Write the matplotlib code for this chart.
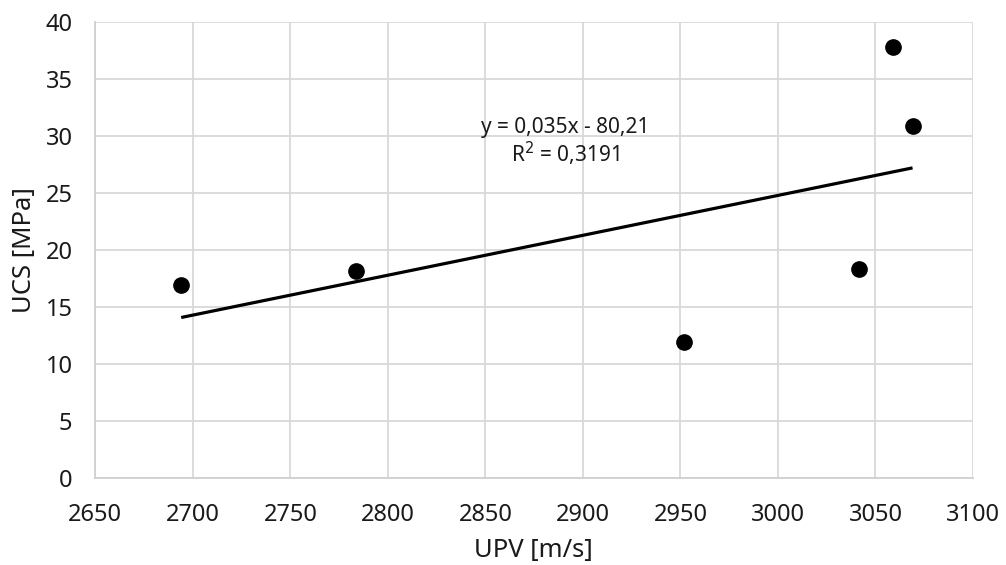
import matplotlib
matplotlib.use("Agg")
import matplotlib.pyplot as plt
import numpy as np

plt.rcParams['font.family'] = ['Noto Sans', 'DejaVu Sans']

upv = [2694, 2783.4, 2951.6, 3041.7, 3059, 3069]
ucs = [16.9, 18.2, 11.9, 18.3, 37.8, 30.9]
slope = 0.035
intercept = -80.21
eq_text = "y = 0,035x - 80,21\nR$^2$ = 0,3191"
xticks = [2650, 2700, 2750, 2800, 2850, 2900, 2950, 3000, 3050, 3100]
yticks = [0, 5, 10, 15, 20, 25, 30, 35, 40]

fig = plt.figure(figsize=(10.06, 5.65), dpi=100)
ax = fig.add_axes([0.0948, 0.154, 0.8724, 0.807])

ax.set_xlim(2650, 3100)
ax.set_ylim(0, 40)
ax.set_xticks(xticks)
ax.set_yticks(yticks)
ax.grid(True, color='#d9d9d9', linewidth=1.3)
ax.set_axisbelow(True)
for s in ax.spines.values():
    s.set_visible(False)
for side in ('left', 'bottom'):
    ax.spines[side].set_visible(True)
    ax.spines[side].set_color('#d0d0d0')
    ax.spines[side].set_linewidth(1.3)
ax.tick_params(length=0, labelsize=17, colors='#1a1a1a')
ax.tick_params(axis='x', pad=18)
ax.tick_params(axis='y', pad=16.5)

xs = np.array([min(upv), max(upv)])
ax.plot(xs, slope * xs + intercept, color='black', linewidth=2.3,
        solid_capstyle='butt', zorder=2)
ax.plot(upv, ucs, 'o', color='black', markersize=11, zorder=3)

ax.text(2891, 29.4, eq_text, ha='center', va='center', fontsize=15,
        color='#1a1a1a', linespacing=1.08)

fig.text(0.53, 0.0265, 'UPV [m/s]', ha='center', va='center',
         fontsize=18.5, color='#1a1a1a')
fig.text(0.0239, 0.5575, 'UCS [MPa]', ha='center', va='center',
         rotation=90, fontsize=18.5, color='#1a1a1a')

fig.savefig('out.png', dpi=100)
